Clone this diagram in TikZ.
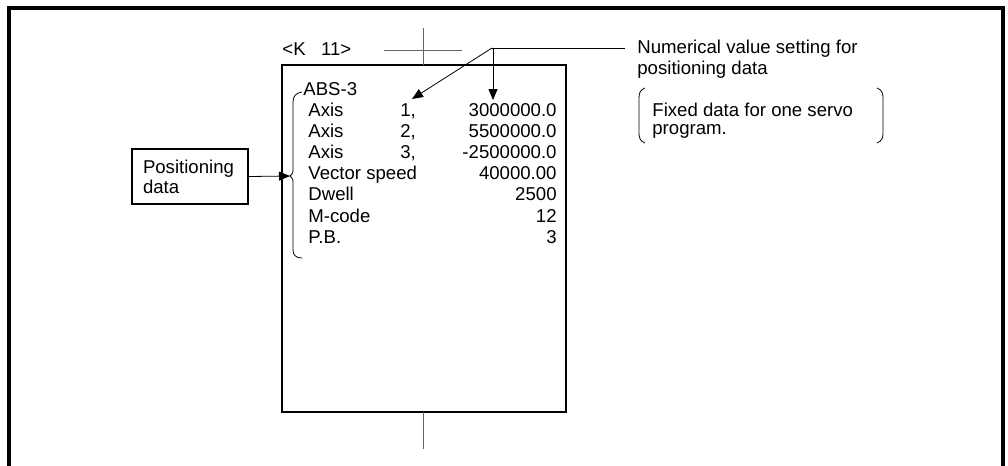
\documentclass[tikz,border=0pt]{standalone}
\usepackage{fontspec}
\setmainfont{Liberation Sans}
\usetikzlibrary{arrows.meta,positioning,calc}
\definecolor{MarkGray}{RGB}{100,100,100}

\tikzset{
  txt/.style={inner sep=0pt,anchor=base west,font=\fontsize{9.3}{10.5}\selectfont},
  num/.style={txt,anchor=base east},
  leader/.style={-{Triangle[length=5.5pt,width=4.5pt]},line width=.4pt},
}

\begin{document}
\begin{tikzpicture}[x=.5pt,y=-.5pt]
  \useasboundingbox (0,0) rectangle (1008,466);
  % outer frame, open at the bottom
  \draw[line width=2pt] (9,466)--(9,8)--(1003,8)--(1003,466);
  % servo program sheet and its centre marks
  \draw[line width=1pt] (282,65) rectangle (566,412);
  \draw[MarkGray,line width=.5pt] (384,50)--(462,50) (423,28)--(423,65) (423,412)--(423,449);
  \node[txt] (knum) at (282,55) {<K\ \ \ 11>};
  \node[txt] (abs) at (303,95) {ABS-3};
  \foreach \i/\lab/\ax/\val in {1/Axis/{1,}/3000000.0,2/Axis/{2,}/5500000.0,
      3/Axis/{3,}/-2500000.0,4/Vector speed//40000.00,5/Dwell//2500,
      6/M-code//12,7/P.B.//3}{
    \pgfmathsetmacro\y{116+21.2*(\i-1)}
    \node[txt] (lab\i) at (308,\y) {\lab};
    \node[txt] (ax\i) at (400,\y) {\ax};
    \node[num] (val\i) at (557,\y) {\val};
  }
  % brace round the positioning data
  \coordinate (bracetip) at (290,176);
  \draw[line width=.4pt] (302,92) .. controls (296,93) and (293,96) .. (293,102)
    -- (293,168) .. controls (293,173) .. (bracetip)
    .. controls (293,179) .. (293,184) -- (293,250)
    .. controls (293,255) and (296,258) .. (302,258);
  \node[draw,line width=.8pt,align=left,inner xsep=5.5pt,text width=47pt,
    minimum height=27.5pt,font=\fontsize{9.3}{10}\selectfont]
    (posdata) at (190,176.5) {Positioning\\data};
  \draw[leader] (posdata.east) -- (bracetip);
  % numerical value note
  \coordinate (fork) at (492,48);
  \coordinate (lineend) at (625,48);
  \coordinate (tipax) at (412,99);
  \coordinate (tipval) at (493,100);
  \draw[line width=.4pt] (fork) -- (lineend);
  \draw[leader] (fork) -- (tipax);
  \draw[leader] (fork) -| (tipval);
  \node[txt] (note1) at (637,54) {Numerical value setting for};
  \node[txt] (note2) at (637,74) {positioning data};
  % fixed data remark in round brackets
  \node[txt] (fix1) at (652,116) {Fixed data for one servo};
  \node[txt] (fix2) at (652,134) {program.};
  \draw[line width=.4pt] (645,88) .. controls (640,90) and (639,93) .. (639,98)
    -- (639,133) .. controls (639,138) and (640,141) .. (645,143);
  \draw[line width=.4pt] (877,88) .. controls (882,90) and (883,93) .. (883,98)
    -- (883,133) .. controls (883,138) and (882,141) .. (877,143);
\end{tikzpicture}
\end{document}
